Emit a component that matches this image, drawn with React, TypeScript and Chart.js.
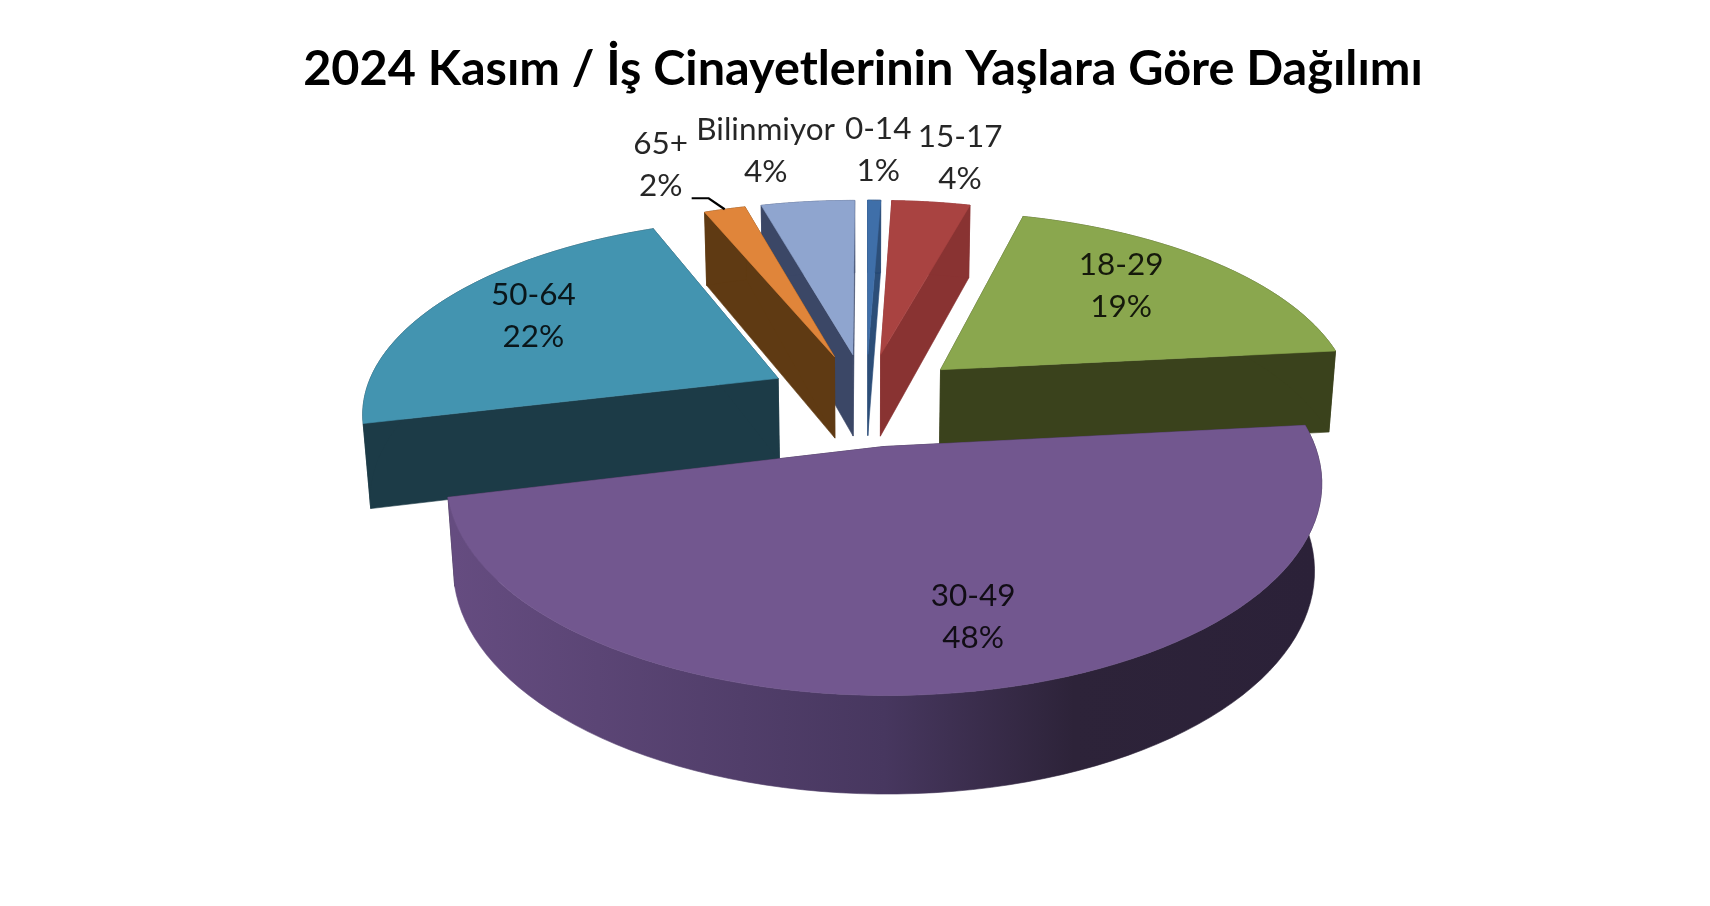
import { useEffect, useRef } from "react";
import Chart from "chart.js/auto";

const title = "2024 Kasım / İş Cinayetlerinin Yaşlara Göre Dağılımı";
const categories = ["0-14", "15-17", "18-29", "30-49", "50-64", "65+", "Bilinmiyor"];
const shares = [0.6, 3.6, 19, 47.6, 22.4, 1.9, 4.3];

const topColors = ["#3f6fa9", "#a94341", "#8aa74e", "#72578f", "#4394b0", "#e0853a", "#8fa5cf"];
const wallColors = ["#2c4e78", "#893332", "#3a421c", "#2b2138", "#1c3b47", "#5f3a13", "#3b4766"];
const rimStops: [number, string][] = [
  [0, "#654c80"],
  [0.5, "#47375f"],
  [0.72, "#2d2339"],
  [1, "#2b2138"],
];

// where each label sits: fraction of the radius, then a pixel nudge
const labelRadius = [1, 1, 0.65, 0.65, 0.65, 1, 1];
const labelNudge = [
  [4, -50],
  [29, -44],
  [-3, -12],
  [34, 22],
  [-23, -10],
  [-64, -44],
  [-42, -51],
];
const leaderIndex = 5;
const leaderBends = [
  [-16, -11],
  [-33, -11],
];

// camera for the tilted pie
const camera = { x: 866, y: 399, rx: 415, ry: 192, depth: 85, persp: 0.16, sink: 0.015 };

type Pt = [number, number];

function project(X: number, Y: number, low: boolean): Pt {
  const w = 1 - camera.persp * Y + (low ? camera.sink : 0);
  return [
    camera.x + (camera.rx * X) / w,
    camera.y + (camera.ry * Y + (low ? camera.depth : 0)) / w,
  ];
}

function fillPoly(ctx: CanvasRenderingContext2D, pts: Pt[], fill: string | CanvasGradient) {
  ctx.beginPath();
  pts.forEach((p, i) => (i ? ctx.lineTo(p[0], p[1]) : ctx.moveTo(p[0], p[1])));
  ctx.closePath();
  ctx.fillStyle = fill;
  ctx.strokeStyle = fill;
  ctx.lineWidth = 0.6;
  ctx.fill();
  ctx.stroke();
}

function sliceGeometry(el: any) {
  const { startAngle, endAngle, outerRadius } = el.getProps(
    ["startAngle", "endAngle", "outerRadius"],
    true
  );
  const mid = (startAngle + endAngle) / 2;
  const off = el.options.offset / outerRadius;
  const ox = Math.cos(mid) * off;
  const oy = Math.sin(mid) * off;
  const at = (r: number, a: number, low: boolean) =>
    project(ox + r * Math.cos(a), oy + r * Math.sin(a), low);
  return { startAngle, endAngle, mid, oy, at };
}

const tiltedPie = {
  id: "tiltedPie",
  beforeDatasetsDraw(chart: any) {
    const ctx: CanvasRenderingContext2D = chart.ctx;
    const arcs = chart.getDatasetMeta(0).data;
    const order = arcs
      .map((el: any, i: number) => ({ i, g: sliceGeometry(el) }))
      .sort((a: any, b: any) => a.g.oy - b.g.oy);

    ctx.save();
    order.forEach(({ i, g }: any) => {
      const steps = 80;
      const top: Pt[] = [];
      const low: Pt[] = [];
      for (let s = 0; s <= steps; s++) {
        const a = g.startAngle + ((g.endAngle - g.startAngle) * s) / steps;
        top.push(g.at(1, a, false));
        low.push(g.at(1, a, true));
      }
      const apexTop = g.at(0, 0, false);
      const apexLow = g.at(0, 0, true);

      // cut faces
      fillPoly(ctx, [apexTop, top[0], low[0], apexLow], wallColors[i]);
      fillPoly(ctx, [apexTop, top[steps], low[steps], apexLow], wallColors[i]);

      // outer wall
      let rim: string | CanvasGradient = wallColors[i];
      if (i === 3) {
        const xs = low.map((p) => p[0]);
        const grad = ctx.createLinearGradient(Math.min(...xs), 0, Math.max(...xs), 0);
        rimStops.forEach(([o, c]) => grad.addColorStop(o, c));
        rim = grad;
      }
      fillPoly(ctx, [...top, ...low.slice().reverse()], rim);

      // top face
      fillPoly(ctx, [apexTop, ...top], topColors[i]);
    });

    // labels
    ctx.font = "31.5px Lato";
    ctx.textAlign = "center";
    ctx.textBaseline = "middle";
    arcs.forEach((el: any, i: number) => {
      const g = sliceGeometry(el);
      const anchor = g.at(labelRadius[i], g.mid, false);
      const x = anchor[0] + labelNudge[i][0];
      const y = anchor[1] + labelNudge[i][1];
      ctx.fillStyle = "rgba(0,0,0,0.85)";
      ctx.fillText(categories[i], x, y - 21);
      ctx.fillText(`${Math.round(shares[i])}%`, x, y + 21);

      if (i === leaderIndex) {
        const rimPt = g.at(1, g.mid, false);
        ctx.beginPath();
        ctx.moveTo(rimPt[0], rimPt[1]);
        leaderBends.forEach(([dx, dy]) => ctx.lineTo(rimPt[0] + dx, rimPt[1] + dy));
        ctx.strokeStyle = "#000";
        ctx.lineWidth = 2.2;
        ctx.stroke();
      }
    });
    ctx.restore();
    return false;
  },
};

export default function App() {
  const chartRef = useRef<HTMLCanvasElement | null>(null);

  useEffect(() => {
    if (!chartRef.current) return;
    const chart = new Chart(chartRef.current, {
      type: "pie",
      data: {
        labels: categories,
        datasets: [
          {
            data: shares,
            backgroundColor: topColors,
            offset: 86,
            borderWidth: 0,
          },
        ],
      },
      options: {
        animation: false,
        responsive: false,
        devicePixelRatio: 1,
        layout: { padding: { left: 16 } },
        plugins: {
          legend: { display: false },
          tooltip: { enabled: false },
          title: {
            display: true,
            text: title,
            color: "#000",
            font: { family: "Lato", size: 48.6, weight: "bold" },
            padding: { top: 40, bottom: 10 },
          },
        },
      },
      plugins: [tiltedPie],
    } as any);
    return () => chart.destroy();
  }, []);

  return (
    <div style={{ position: "fixed", left: 0, top: 0, background: "#fff" }}>
      <canvas ref={chartRef} width={1710} height={906} style={{ display: "block" }} />
    </div>
  );
}
